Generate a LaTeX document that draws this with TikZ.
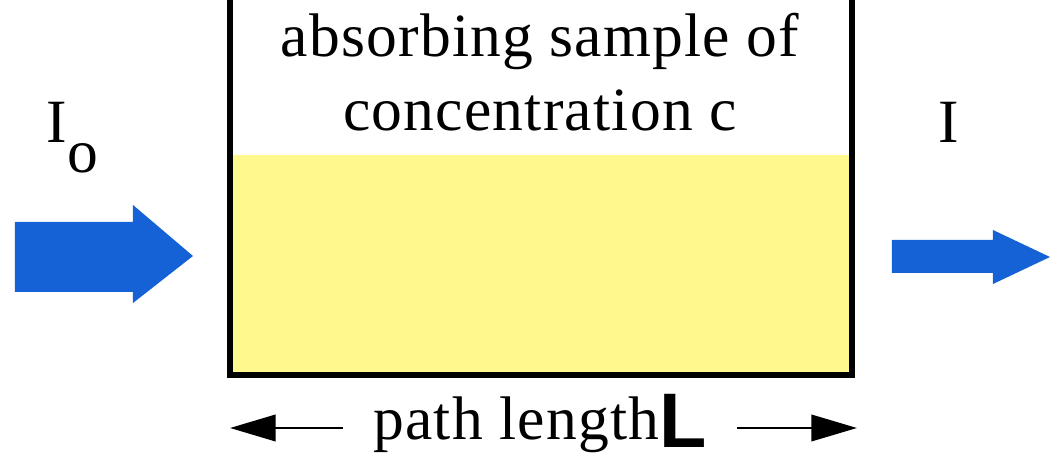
\documentclass[tikz,border=0pt]{standalone}
\usepackage{fontspec}
\setmainfont{Liberation Serif}[LetterSpace=2]
\setsansfont{Liberation Sans}
\usetikzlibrary{arrows.meta}
\definecolor{beamblue}{RGB}{20,98,214}
\definecolor{sampleyellow}{RGB}{255,248,140}
\tikzset{
  beam/.style={fill=beamblue},
  wall/.style={line width=1.6pt,line join=miter},
  lbl/.style={font=\fontsize{17.5}{21}\selectfont,inner sep=0pt},
  dim/.style={-{Triangle[length=13pt,width=7.5pt]},line width=0.8pt}
}
\begin{document}
\begin{tikzpicture}[x=0.01cm,y=-0.01cm]
  \useasboundingbox (0,0) rectangle (1053,464);
  % sample in the cell
  \fill[sampleyellow] (232,155) rectangle (850,373);
  \draw[wall] (230,0)--(230,375)--(852,375)--(852,0);
  \node[lbl,align=center] (sample) at (540,72) {absorbing sample of\\concentration c};
  % light in and out
  \fill[beam] (15,222)--(133,222)--(133,205)--(193,256)--(133,303)--(133,292)--(15,292)--cycle;
  \fill[beam] (892,240)--(993,240)--(993,230)--(1050,257)--(993,284)--(993,273)--(892,273)--cycle;
  \node[lbl,anchor=base west] (Io) at (46,143) {I\raisebox{-8.5pt}{o}};
  \node[lbl,anchor=base] (I) at (949,143) {I};
  % path length
  \coordinate (lend) at (230,428);
  \coordinate (rend) at (857,428);
  \node[lbl,inner xsep=0.3cm,anchor=base] (len) at (540,440) {path length\raisebox{-2pt}{\fontsize{22}{22}\selectfont\sffamily\bfseries L}};
  \draw[dim] (len.west|-lend)--(lend);
  \draw[dim] (len.east|-rend)--(rend);
\end{tikzpicture}
\end{document}
